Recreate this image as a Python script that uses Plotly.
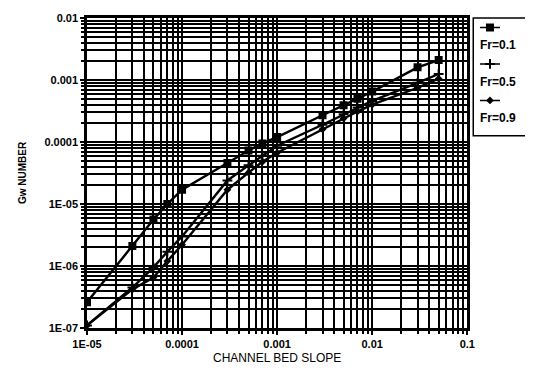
import plotly.graph_objects as go

# ---- data ----
slope = [1e-05, 3e-05, 5e-05, 7e-05, 1e-04, 3e-04, 5e-04, 7e-04,
         1e-03, 3e-03, 5e-03, 7e-03, 1e-02, 3e-02, 5e-02]
gw_fr01 = [2.6e-07, 2.1e-06, 5.6e-06, 1.0e-05, 1.7e-05, 4.6e-05, 7.3e-05, 9.5e-05,
           1.2e-04, 2.7e-04, 3.9e-04, 5.0e-04, 6.5e-04, 1.6e-03, 2.1e-03]
gw_fr05 = [1.1e-07, 4.5e-07, 9.5e-07, 1.7e-06, 3.0e-06, 2.4e-05, 4.2e-05, 6.0e-05,
           8.7e-05, 1.9e-04, 2.8e-04, 3.6e-04, 4.6e-04, 9.0e-04, 1.25e-03]
gw_fr09 = [1.1e-07, 4.2e-07, 6.5e-07, 1.2e-06, 2.2e-06, 1.7e-05, 3.2e-05, 4.8e-05,
           6.7e-05, 1.6e-04, 2.4e-04, 3.1e-04, 4.0e-04, 7.5e-04, 1.05e-03]
series_names = ["Fr=0.1", "Fr=0.5", "Fr=0.9"]
x_tickvals = [1e-05, 1e-04, 1e-03, 1e-02, 1e-01]
x_ticktext = ["1E-05", "0.0001", "0.001", "0.01", "0.1"]
y_tickvals = [1e-07, 1e-06, 1e-05, 1e-04, 1e-03, 1e-02]
y_ticktext = ["1E-07", "1E-06", "1E-05", "0.0001", "0.001", "0.01"]
x_title = "CHANNEL BED SLOPE"
y_title = "Gw NUMBER"

FONT = "Liberation Sans"
symbols = ["square", "cross-thin-open", "diamond"]
msizes = [8, 7, 6]

fig = go.Figure()
for name, ys, sym, ms in zip(series_names, [gw_fr01, gw_fr05, gw_fr09], symbols, msizes):
    fig.add_trace(go.Scatter(
        x=slope, y=ys, mode="lines+markers", name=name, showlegend=False,
        line=dict(color="black", width=2.4),
        marker=dict(symbol=sym, size=ms, color="black",
                    line=dict(color="black", width=2 if "thin" in sym else 0)),
    ))

# custom legend samples (symbol above text) on an overlay axis
leg_y = [0.92, 0.61, 0.30]
for name, sym, ms, ly in zip(series_names, symbols, msizes, leg_y):
    fig.add_trace(go.Scatter(
        x=[0.12, 0.3, 0.48], y=[ly, ly, ly], xaxis="x2", yaxis="y2",
        mode="lines", showlegend=False, hoverinfo="skip",
        line=dict(color="black", width=1.5),
    ))
    fig.add_trace(go.Scatter(
        x=[0.3], y=[ly], xaxis="x2", yaxis="y2", mode="markers",
        showlegend=False, hoverinfo="skip",
        marker=dict(symbol=sym, size=ms, color="black",
                    line=dict(color="black", width=2 if "thin" in sym else 0)),
    ))
    fig.add_annotation(xref="x2", yref="y2", x=0.08, y=ly - 0.15, text=name,
                       showarrow=False, xanchor="left", yanchor="middle",
                       font=dict(family=FONT, size=12, color="black", weight="bold"))

# page body adds an 8px offset; positions below are in figure pixels
OFF = 8
L, R, T, B = 87 - OFF, 469 - OFF, 12 - OFF, 328 - OFF
W, H = 533, 368
RM = W - (531 - OFF)
paper_w = W - L - RM
plot_h = B - T
x_dom = [0, (R - L) / paper_w]
lx0, lx1 = (475 - OFF - L) / paper_w, 1.0
ly0, ly1 = 1 - (132 - 12) / plot_h, 1.0

fig.add_annotation(xref="paper", yref="paper", x=x_dom[1] / 2,
                   y=-(359 - 328) / plot_h,
                   text=x_title, showarrow=False, xanchor="center", yanchor="middle",
                   font=dict(family=FONT, size=12, color="black"))

tickfont = dict(family=FONT, size=11, color="black", weight="bold")
minor = dict(dtick="D1", showgrid=True, gridcolor="black", gridwidth=1.7,
             ticks="outside", ticklen=3, tickcolor="black")
fig.update_layout(
    width=W, height=H,
    margin=dict(l=L, r=RM, t=T, b=H - B),
    paper_bgcolor="white", plot_bgcolor="white",
    font=dict(family=FONT, size=11, color="black"),
    xaxis=dict(type="log", range=[-5, -1], domain=x_dom,
               tickvals=x_tickvals, ticktext=x_ticktext, tickfont=tickfont,
               showline=True, linecolor="black", linewidth=2.5, mirror=True,
               ticks="outside", ticklen=4, tickcolor="black", tickwidth=1.5,
               minor=minor, showgrid=True, gridcolor="black", gridwidth=2,
               zeroline=False),
    yaxis=dict(type="log", range=[-7, -2], tickvals=y_tickvals, ticktext=y_ticktext,
               tickfont=tickfont,
               showline=True, linecolor="black", linewidth=2.5, mirror=True,
               ticks="outside", ticklen=4, tickcolor="black", tickwidth=1.5,
               minor=minor, showgrid=True, gridcolor="black", gridwidth=2,
               title=dict(text="<b>" + y_title + "</b>", standoff=16,
                          font=dict(family=FONT, size=10)),
               zeroline=False),
    xaxis2=dict(domain=[lx0, lx1], range=[0, 1], visible=False, anchor="y2"),
    yaxis2=dict(domain=[ly0, ly1], range=[0, 1], visible=False, anchor="x2"),
    shapes=[dict(type="rect", xref="paper", yref="paper", x0=lx0, x1=lx1,
                 y0=ly0, y1=ly1, line=dict(color="black", width=1.5))],
)
fig.write_html("out.html")
